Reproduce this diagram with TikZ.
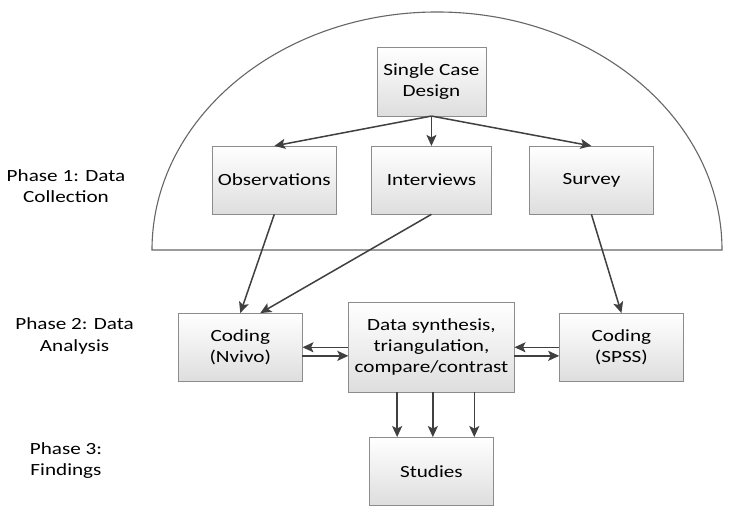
\documentclass[tikz,border=0pt]{standalone}
\usepackage{fontspec}
\setmainfont{Carlito}[FakeStretch=1.24]
\usepackage{tikz}
\usetikzlibrary{arrows.meta}
\definecolor{boxline}{HTML}{8C8C8C}
\definecolor{arrowgray}{HTML}{404040}
\tikzstyle{stage} = [rectangle,
minimum width=4.34cm,
minimum height=2.38cm,
text centered,
align=center,
draw=boxline,
top color=white,
bottom color=black!13,
font=\fontsize{17}{21}\selectfont]
\tikzstyle{phase} = [align=center,
font=\fontsize{17}{21}\selectfont]
\tikzstyle{arrow} = [line width=1.5pt, draw=arrowgray,
-{Stealth[length=11pt, width=10pt, inset=2.5pt]}]
\tikzstyle{frame} = [line width=1.1pt, draw=black!60]

\begin{document}
\begin{tikzpicture}[node distance=3.45cm]
    \useasboundingbox (0,0) rectangle (25.62,18.025);

    % half dome round phase 1
    \draw [frame] (5.32,9.275) arc[start angle=180, end angle=0, x radius=9.975cm, y radius=8.33cm] -- cycle;

    \node (design) [stage, minimum width=3.8cm, minimum height=2.4cm] at (15.1,15.17) {Single Case\\Design};
    \node (interviews) [stage, minimum width=4.2cm, below of=design] {Interviews};
    \node (observations) [stage, left of=interviews, xshift=-2.05cm] {Observations};
    \node (survey) [stage, right of=interviews, xshift=2.15cm] {Survey};

    \node (synthesis) [stage, minimum width=5.8cm, minimum height=3.15cm, below of=interviews, yshift=-2.4cm] {Data synthesis,\\triangulation,\\compare/contrast};
    \node (nvivo) [stage, left of=synthesis, xshift=-3.24cm] {Coding\\(Nvivo)};
    \node (spss) [stage, right of=synthesis, xshift=3.2cm] {Coding\\(SPSS)};
    \node (studies) [stage, below of=synthesis, yshift=-0.89cm] {Studies};

    \node (phaseone) [phase] at (2.31,11.515) {Phase 1: Data\\Collection};
    \node (phasetwo) [phase] at (2.61,6.265) {Phase 2: Data\\Analysis};
    \node (phasethree) [phase] at (2.31,1.89) {Phase 3:\\Findings};

    \draw [arrow] (design.south) -- (observations.north);
    \draw [arrow] (design.south) -- (interviews.north);
    \draw [arrow] (design.south) -- (survey.north);
    \draw [arrow] (observations.south) -- (nvivo.north);
    \draw [arrow] (interviews.south) -- ([xshift=0.7cm]nvivo.north);
    \draw [arrow] (survey.south) -- (spss.north);
    \draw [arrow] (synthesis.west) -- (nvivo.east);
    \draw [arrow] ([yshift=-0.3cm]nvivo.east) -- ([yshift=-0.3cm]synthesis.west);
    \draw [arrow] (spss.west) -- (synthesis.east);
    \draw [arrow] ([yshift=-0.3cm]synthesis.east) -- ([yshift=-0.3cm]spss.west);
    \foreach \dx in {-1.2, 0.05, 1.5}
        \draw [arrow] ([xshift=\dx cm]synthesis.south) -- ([xshift=\dx cm]studies.north);

\end{tikzpicture}
\end{document}
